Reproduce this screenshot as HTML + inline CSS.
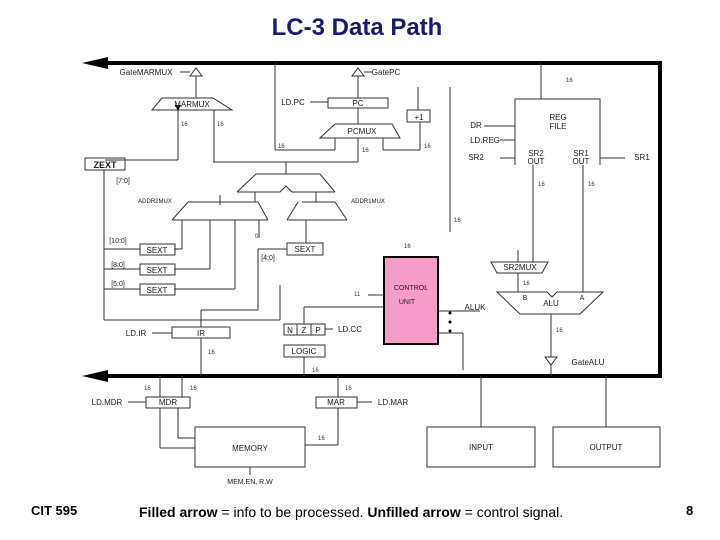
<!DOCTYPE html>
<html><head><meta charset="utf-8"><style>
body{margin:0;background:#fff;width:720px;height:540px;overflow:hidden;font-family:"Liberation Sans",sans-serif}
svg{position:absolute;left:0;top:0}
</style></head><body>
<svg width="720" height="540" viewBox="0 0 720 540" font-family="Liberation Sans, sans-serif">
<defs>
<marker id="a" markerWidth="6" markerHeight="6" refX="5" refY="3" orient="auto"><path d="M0,0 L6,3 L0,6z" fill="#000"/></marker>
</defs>
<text x="357" y="35" text-anchor="middle" font-size="24" font-weight="bold" fill="#1a1a6e">LC-3  Data Path</text>

<g stroke="#000" stroke-width="4" fill="none">
<path d="M100,63 H660 V376 H100"/>
</g>
<path d="M82,63 L108,57 L108,69z" fill="#000"/>
<path d="M82,376 L108,370 L108,382z" fill="#000"/>

<g stroke="#333" stroke-width="1" fill="none">
<path d="M190,76 L202,76 L196,68z"/>
<line x1="180" y1="72" x2="190" y2="72"/>
<line x1="196" y1="76" x2="196" y2="98"/>
<path d="M162,98 H213 L232,110 H152z"/>
<line x1="178" y1="110" x2="178" y2="160" marker-start="url(#a)"/>
<line x1="105" y1="160" x2="178" y2="160"/>
<line x1="214" y1="110" x2="214" y2="162"/>
<rect x="85" y="158" width="40" height="12"/>
<line x1="104" y1="170" x2="104" y2="320"/>
<line x1="104" y1="320" x2="280" y2="320"/>
<line x1="275" y1="63" x2="275" y2="150"/>
<line x1="275" y1="150" x2="335" y2="150"/>
<path d="M352,76 L364,76 L358,68z"/>
<line x1="364" y1="72" x2="372" y2="72"/>
<line x1="358" y1="76" x2="358" y2="98"/>
<rect x="328" y="98" width="60" height="10"/>
<line x1="310" y1="102" x2="328" y2="102"/>
<line x1="358" y1="108" x2="358" y2="124"/>
<path d="M335,124 H392 L400,138 H320z"/>
<line x1="335" y1="150" x2="335" y2="138"/>
<line x1="358" y1="162" x2="358" y2="138"/>
<line x1="383" y1="150" x2="383" y2="138"/>
<line x1="383" y1="150" x2="420" y2="150"/>
<line x1="420" y1="150" x2="420" y2="122"/>
<line x1="418" y1="87" x2="418" y2="110"/>
<rect x="407" y="110" width="23" height="12"/>
<line x1="213" y1="162" x2="358" y2="162"/>
<line x1="286" y1="162" x2="286" y2="174"/>
<path d="M256,174 H320 M256,174 L237,192 M320,174 L335,192 M237,192 H280 L286,186 L292,192 H335"/>
<path d="M188,202 H258 M188,202 L172,220 M258,202 L268,220 M172,220 H268"/>
<path d="M302,202 H335 M287,220 L298,202 M335,202 L347,220 M287,220 H347"/>
<line x1="220" y1="195" x2="220" y2="205"/>
<line x1="255" y1="192" x2="255" y2="202"/>
<line x1="316" y1="192" x2="316" y2="202"/>
<line x1="182" y1="220" x2="182" y2="249"/>
<line x1="210" y1="220" x2="210" y2="269"/>
<line x1="235" y1="220" x2="235" y2="289"/>
<line x1="259" y1="220" x2="259" y2="238"/>
<line x1="306" y1="220" x2="306" y2="243"/>
<line x1="174" y1="249" x2="182" y2="249"/>
<line x1="174" y1="269" x2="210" y2="269"/>
<line x1="174" y1="289" x2="235" y2="289"/>
<rect x="140" y="244" width="35" height="11"/>
<rect x="140" y="264" width="35" height="11"/>
<rect x="140" y="284" width="35" height="11"/>
<rect x="287" y="243" width="36" height="12"/>
<line x1="104" y1="249" x2="140" y2="249"/>
<line x1="104" y1="269" x2="140" y2="269"/>
<line x1="104" y1="289" x2="140" y2="289"/>
<line x1="258" y1="249" x2="287" y2="249"/>
<line x1="258" y1="249" x2="258" y2="310"/>
<line x1="201" y1="310" x2="258" y2="310"/>
<line x1="201" y1="310" x2="201" y2="327"/>
<line x1="280" y1="285" x2="280" y2="320"/>
<rect x="172" y="327" width="58" height="11"/>
<line x1="152" y1="333" x2="172" y2="333"/>
<line x1="201" y1="338" x2="201" y2="376"/>
<rect x="284" y="324" width="13" height="11"/><rect x="297" y="324" width="14" height="11"/><rect x="311" y="324" width="14" height="11"/>
<line x1="325" y1="329" x2="333" y2="329"/>
<rect x="284" y="345" width="41" height="12"/>
<line x1="304" y1="357" x2="304" y2="376"/>
<line x1="304" y1="324" x2="304" y2="307"/>
<line x1="304" y1="307" x2="384" y2="307"/>
<line x1="368" y1="295" x2="384" y2="295"/>
<line x1="438" y1="311" x2="480" y2="311"/>
<line x1="438" y1="333" x2="463" y2="333"/>
<line x1="463" y1="333" x2="463" y2="370"/>
<line x1="450" y1="87" x2="450" y2="232"/>
<line x1="541" y1="63" x2="541" y2="99"/>
<path d="M515,165 V99 H600 V165"/>
<line x1="484" y1="126" x2="515" y2="126"/>
<line x1="500" y1="140" x2="515" y2="140"/>
<line x1="500" y1="158" x2="515" y2="158"/>
<line x1="600" y1="158" x2="625" y2="158"/>
<line x1="533" y1="165" x2="533" y2="262"/>
<line x1="583" y1="165" x2="583" y2="292"/>
<path d="M491,262 H548 L542,273 H497z"/>
<line x1="518" y1="250" x2="518" y2="262"/>
<line x1="518" y1="273" x2="518" y2="292"/>
<path d="M497,292 H547 L552,297 L557,292 H603 L580,314 H520z"/>
<line x1="551" y1="314" x2="551" y2="357"/>
<path d="M545,357 H557 L551,365z"/>
<line x1="551" y1="365" x2="551" y2="376"/>
<line x1="160" y1="376" x2="160" y2="397"/>
<line x1="182" y1="376" x2="182" y2="397"/>
<rect x="146" y="397" width="44" height="11"/>
<line x1="128" y1="402" x2="146" y2="402"/>
<line x1="160" y1="408" x2="160" y2="448"/>
<line x1="160" y1="448" x2="195" y2="448"/>
<line x1="178" y1="408" x2="178" y2="438"/>
<line x1="178" y1="438" x2="195" y2="438"/>
<line x1="338" y1="376" x2="338" y2="397"/>
<rect x="316" y="397" width="41" height="11"/>
<line x1="357" y1="402" x2="372" y2="402"/>
<line x1="338" y1="408" x2="338" y2="445"/>
<line x1="305" y1="445" x2="338" y2="445"/>
<rect x="195" y="427" width="110" height="40"/>
<line x1="250" y1="467" x2="250" y2="475"/>
<rect x="427" y="427" width="108" height="40"/>
<rect x="553" y="427" width="107" height="40"/>
<line x1="481" y1="427" x2="481" y2="376"/>
<line x1="606" y1="376" x2="606" y2="427"/>
</g>
<rect x="384" y="257" width="54" height="87" fill="#f59cc8" stroke="#000" stroke-width="2"/>
<g fill="#000"><circle cx="450" cy="313" r="1.5"/><circle cx="450" cy="322" r="1.5"/><circle cx="450" cy="331" r="1.5"/></g>
<g font-size="8" fill="#222" text-anchor="middle">
<text x="146" y="75">GateMARMUX</text>
<text x="386" y="75">GatePC</text>
<text x="192" y="107">MARMUX</text>
<text x="358" y="106">PC</text>
<text x="293" y="105">LD.PC</text>
<text x="362" y="134">PCMUX</text>
<text x="419" y="120">+1</text>
<text x="105" y="168" font-size="9" font-weight="bold">ZEXT</text>
<text x="157" y="253">SEXT</text><text x="157" y="273">SEXT</text><text x="157" y="293">SEXT</text>
<text x="305" y="252">SEXT</text>
<text x="118" y="243" font-size="7">[10:0]</text>
<text x="118" y="267" font-size="7">[8:0]</text>
<text x="118" y="286" font-size="7">[5:0]</text>
<text x="268" y="260" font-size="7">[4:0]</text>
<text x="123" y="183" font-size="7">[7:0]</text>
<text x="155" y="203" font-size="6">ADDR2MUX</text>
<text x="368" y="203" font-size="6">ADDR1MUX</text>
<text x="201" y="336">IR</text>
<text x="136" y="336">LD.IR</text>
<text x="290" y="333">N</text><text x="304" y="333">Z</text><text x="318" y="333">P</text>
<text x="350" y="332">LD.CC</text>
<text x="304" y="354">LOGIC</text>
<text x="411" y="290" font-size="7">CONTROL</text>
<text x="407" y="304" font-size="7">UNIT</text>
<text x="475" y="310">ALUK</text>
<text x="558" y="120">REG</text><text x="558" y="129">FILE</text>
<text x="536" y="156">SR2</text><text x="536" y="164">OUT</text>
<text x="581" y="156">SR1</text><text x="581" y="164">OUT</text>
<text x="476" y="128">DR</text><text x="485" y="143">LD.REG</text><text x="476" y="160">SR2</text>
<text x="642" y="160">SR1</text>
<text x="520" y="270">SR2MUX</text>
<text x="551" y="306">ALU</text>
<text x="525" y="300" font-size="7">B</text><text x="582" y="300" font-size="7">A</text>
<text x="588" y="365">GateALU</text>
<text x="168" y="405">MDR</text>
<text x="107" y="405">LD.MDR</text>
<text x="336" y="405">MAR</text>
<text x="393" y="405">LD.MAR</text>
<text x="250" y="451">MEMORY</text>
<text x="250" y="484" font-size="7">MEM.EN, R.W</text>
<text x="481" y="450">INPUT</text>
<text x="606" y="450">OUTPUT</text>
</g>
<g font-size="6" fill="#333">
<text x="566" y="82">16</text><text x="181" y="126">16</text><text x="217" y="126">16</text>
<text x="278" y="148">16</text><text x="362" y="152">16</text><text x="424" y="148">16</text>
<text x="454" y="222">16</text><text x="538" y="186">16</text><text x="588" y="186">16</text>
<text x="404" y="248">16</text><text x="523" y="285">16</text><text x="556" y="332">16</text>
<text x="208" y="354">16</text><text x="312" y="372">16</text><text x="144" y="390">16</text>
<text x="190" y="390">16</text><text x="345" y="390">16</text><text x="318" y="440">16</text>
<text x="255" y="238">0</text><text x="354" y="296">11</text>
</g>
<text x="31" y="515" font-size="13" font-weight="bold">CIT 595</text>
<text x="139" y="517" font-size="14"><tspan font-weight="bold">Filled arrow</tspan> = info to be processed.  <tspan font-weight="bold">Unfilled arrow</tspan> = control signal.</text>
<text x="686" y="515" font-size="13" font-weight="bold">8</text>
</svg>
</body></html>
